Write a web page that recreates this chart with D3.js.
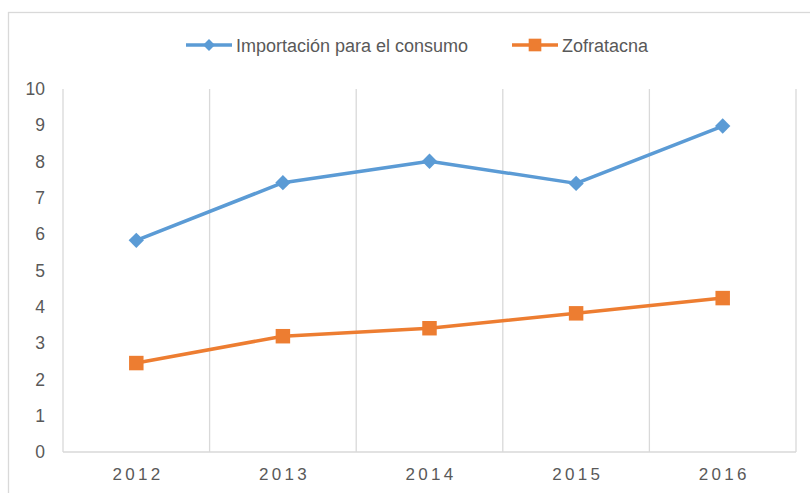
<!DOCTYPE html>
<meta charset="utf-8">
<script src="https://d3js.org/d3.v7.min.js"></script>
<style>
  body { margin: 0; background: #fff; }
  text { font-family: "Liberation Sans", Arial, sans-serif; fill: #595959; }
</style>
<div id="chart"></div>
<script>
var years = ["2012", "2013", "2014", "2015", "2016"];
var importacion = [5.83, 7.42, 8.01, 7.4, 8.98];
var zofratacna = [2.45, 3.19, 3.41, 3.82, 4.24];
var yTicks = [0, 1, 2, 3, 4, 5, 6, 7, 8, 9, 10];
var seriesNames = ["Importación para el consumo", "Zofratacna"];

var W = 810, H = 493;
var margin = {top: 89, right: 14, bottom: 41, left: 63},
    width = W - margin.left - margin.right,
    height = H - margin.top - margin.bottom;

var svg = d3.select("#chart").append("svg")
    .attr("width", W)
    .attr("height", H);

// chart area border (cut off at right and bottom in the original)
svg.append("rect")
  .attr("x", 8.5).attr("y", 12.5)
  .attr("width", 900).attr("height", 600)
  .attr("fill", "none")
  .attr("stroke", "#d9d9d9")
  .attr("stroke-width", 1.3);

var g = svg.append("g")
  .attr("transform", "translate(" + margin.left + "," + margin.top + ")");

var x = d3.scaleBand().domain(years).range([0, width]);
var y = d3.scaleLinear().domain([0, 10]).range([height, 0]);

// vertical gridlines on category edges
var edges = years.map(function(d) { return x(d); }).concat([width]);
g.selectAll(".vgrid")
  .data(edges)
  .enter().append("line")
  .attr("x1", function(d) { return d; })
  .attr("x2", function(d) { return d; })
  .attr("y1", 0).attr("y2", height)
  .attr("stroke", "#d9d9d9")
  .attr("stroke-width", 1.3);

// baseline
g.append("line")
  .attr("x1", 0).attr("x2", width)
  .attr("y1", height).attr("y2", height)
  .attr("stroke", "#d9d9d9")
  .attr("stroke-width", 1.3);

// y axis labels
var yAxis = g.append("g")
  .call(d3.axisLeft(y).tickValues(yTicks).tickSize(0).tickPadding(18));
yAxis.select(".domain").remove();
yAxis.selectAll("text")
  .attr("font-size", 17.5)
  .attr("font-family", null)
  .attr("fill", "#595959");

// x axis labels
var xAxis = g.append("g")
  .attr("transform", "translate(0," + height + ")")
  .call(d3.axisBottom(x).tickSize(0).tickPadding(16));
xAxis.select(".domain").remove();
xAxis.selectAll("text")
  .attr("font-size", 17)
  .attr("font-family", null)
  .attr("fill", "#595959")
  .style("letter-spacing", "3.3px")
  .attr("dx", "1.6px");

var line = d3.line()
  .x(function(d, i) { return x(years[i]) + x.bandwidth() / 2; })
  .y(function(d) { return y(d); });

var blue = "#5b9bd5", orange = "#ed7d31";

g.append("path")
  .datum(importacion)
  .attr("fill", "none")
  .attr("stroke", blue)
  .attr("stroke-width", 3.5)
  .attr("stroke-linejoin", "round")
  .attr("d", line);

g.append("path")
  .datum(zofratacna)
  .attr("fill", "none")
  .attr("stroke", orange)
  .attr("stroke-width", 3.5)
  .attr("stroke-linejoin", "round")
  .attr("d", line);

var diamond = d3.symbol().type(d3.symbolDiamond2).size(150);
var square = d3.symbol().type(d3.symbolSquare).size(210);

g.selectAll(".dia")
  .data(importacion)
  .enter().append("path")
  .attr("d", diamond)
  .attr("fill", blue)
  .attr("transform", function(d, i) {
    return "translate(" + (x(years[i]) + x.bandwidth() / 2) + "," + y(d) + ")";
  });

g.selectAll(".sq")
  .data(zofratacna)
  .enter().append("path")
  .attr("d", square)
  .attr("fill", orange)
  .attr("transform", function(d, i) {
    return "translate(" + (x(years[i]) + x.bandwidth() / 2) + "," + y(d) + ")";
  });

// legend
var legend = [
  {name: seriesNames[0], color: blue, sym: d3.symbol().type(d3.symbolDiamond2).size(90), x: 186},
  {name: seriesNames[1], color: orange, sym: d3.symbol().type(d3.symbolSquare).size(160), x: 512}
];
var lg = svg.selectAll(".leg")
  .data(legend)
  .enter().append("g")
  .attr("transform", function(d) { return "translate(" + d.x + ",45)"; });
lg.append("line")
  .attr("x1", 0).attr("x2", 46)
  .attr("stroke", function(d) { return d.color; })
  .attr("stroke-width", 3.5);
lg.append("path")
  .attr("d", function(d) { return d.sym(); })
  .attr("transform", "translate(23,0)")
  .attr("fill", function(d) { return d.color; });
lg.append("text")
  .attr("x", 50)
  .attr("y", 6.5)
  .attr("font-size", 18)
  .text(function(d) { return d.name; });
</script>
